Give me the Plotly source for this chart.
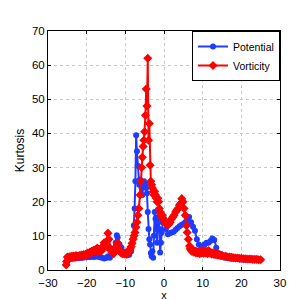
import plotly.graph_objects as go

pot_x = [-25, -24.5, -24, -23.5, -23, -22.5, -22, -21.5, -21, -20.5, -20, -19.5, -19, -18.5, -18, -17.5, -17, -16.5, -16, -15.5, -15, -14.5, -14, -13.5, -13, -12.5, -12.2, -12, -11.5, -11, -10.5, -10, -9.5, -9, -8.5, -8, -7.8, -7.6, -7.4, -7.2, -7.0, -6.8, -6.6, -6.4, -6.2, -6.0, -5.8, -5.6, -5.4, -5.2, -5.0, -4.8, -4.6, -4.4, -4.2, -4.0, -3.8, -3.6, -3.4, -3.2, -3.0, -2.8, -2.6, -2.4, -2.2, -2.0, -1.8, -1.6, -1.4, -1.2, -1.0, -0.8, -0.6, -0.4, -0.2, 0, 0.5, 1, 1.5, 2, 2.5, 3, 3.5, 4, 4.5, 5, 5.5, 6, 6.5, 7, 7.5, 8, 8.5, 9, 9.5, 10, 10.5, 11, 11.5, 12, 12.5, 13, 13.5, 14, 14.5, 15, 15.5, 16, 16.5, 17, 17.5, 18, 19, 20, 21, 22, 23, 24, 25]
pot_y = [2.5, 3.2, 3.3, 3.4, 3.4, 3.5, 3.5, 3.6, 3.6, 3.7, 3.7, 3.8, 3.8, 3.9, 3.8, 4.0, 3.9, 3.7, 3.6, 3.4, 3.5, 4.0, 3.6, 4.5, 5.5, 8.0, 10.2, 9.5, 7.5, 6.5, 5.0, 4.5, 4.3, 4.5, 5.5, 9.0, 13.0, 18.0, 26.0, 39.5, 34.8, 30.5, 26.0, 25.0, 26.5, 25.0, 24.0, 22.0, 24.5, 26.0, 25.5, 25.2, 24.0, 22.5, 17.0, 12.0, 9.0, 7.5, 5.0, 4.0, 5.5, 3.6, 10.0, 17.0, 15.0, 12.0, 8.0, 15.2, 15.5, 12.0, 5.1, 8.0, 11.0, 14.0, 15.5, 15.0, 12.0, 10.5, 10.8, 11.0, 11.2, 11.8, 12.3, 12.8, 13.2, 13.5, 14.0, 14.8, 15.5, 14.0, 12.7, 11.5, 9.0, 7.5, 6.0, 7.0, 7.5, 8.0, 8.0, 8.5, 9.2, 8.8, 6.5, 5.0, 4.5, 4.0, 3.8, 3.6, 3.5, 3.4, 3.4, 3.3, 3.2, 3.1, 3.0, 3.0, 3.0, 3.0, 3.0]

vor_x = [-25.3, -25.2, -25.0, -24.75, -24.5, -24.25, -24.0, -23.75, -23.5, -23.25, -23.0, -22.75, -22.5, -22.25, -22.0, -21.75, -21.5, -21.25, -21.0, -20.75, -20.5, -20.25, -20.0, -19.75, -19.5, -19.25, -19.0, -18.75, -18.5, -18.25, -18.0, -17.75, -17.5, -17.25, -17.0, -16.75, -16.5, -16.25, -16.0, -15.75, -15.5, -15.25, -15.0, -14.75, -14.5, -14.25, -14.0, -13.75, -13.5, -13.25, -13.0, -12.75, -12.5, -12.25, -12.0, -11.75, -11.5, -11.25, -11.0, -10.75, -10.5, -10.25, -10.0, -9.75, -9.5, -9.25, -9.0, -8.75, -8.5, -8.25, -8.0, -7.75, -7.5, -7.25, -7.0, -6.75, -6.5, -6.2, -6.0, -5.8, -5.6, -5.4, -5.2, -5.0, -4.8, -4.6, -4.4, -4.2, -4.0, -3.8, -3.6, -3.4, -3.2, -3.0, -2.8, -2.6, -2.4, -2.2, -2.0, -1.8, -1.6, -1.4, -1.2, -1.0, -0.8, -0.6, -0.4, -0.2, 0, 0.3, 0.6, 1, 1.3, 1.6, 2, 2.3, 2.6, 3, 3.3, 3.6, 4, 4.3, 4.6, 4.9, 5.2, 5.5, 5.8, 6, 6.3, 6.6, 6.8, 7.0, 7.25, 7.5, 7.75, 8.0, 8.25, 8.5, 8.75, 9.0, 9.25, 9.5, 9.75, 10.0, 10.25, 10.5, 10.75, 11.0, 11.25, 11.5, 11.75, 12.0, 12.25, 12.5, 12.75, 13.0, 13.25, 13.5, 13.75, 14.0, 14.25, 14.5, 14.75, 15.0, 15.5, 16.0, 16.5, 17.0, 17.5, 18.0, 18.5, 19.0, 19.5, 20.0, 20.5, 21.0, 21.5, 22.0, 22.5, 23.0, 23.5, 24.0, 24.5, 25.0]
vor_y = [1.5, 2.5, 3.8, 3.4, 3.9, 3.6, 4.0, 3.7, 4.1, 3.8, 4.0, 4.2, 3.9, 4.1, 4.0, 4.3, 4.1, 4.4, 4.2, 4.5, 4.3, 4.6, 4.5, 5.0, 4.7, 5.2, 5.0, 5.5, 5.2, 5.8, 5.5, 6.0, 5.6, 6.4, 6.0, 5.4, 5.8, 5.5, 6.2, 7.0, 8.0, 7.2, 6.8, 8.5, 10.8, 9.0, 6.5, 5.8, 5.3, 5.0, 4.8, 5.3, 6.0, 7.0, 8.0, 6.5, 5.8, 5.2, 5.0, 4.8, 5.1, 4.7, 4.9, 4.6, 5.0, 5.3, 5.6, 6.2, 6.8, 7.8, 9.0, 10.0, 11.0, 12.5, 14.0, 16.0, 18.0, 22.0, 26.0, 30.0, 33.0, 36.2, 38.0, 40.5, 45.3, 53.0, 48.0, 62.0, 38.0, 42.9, 30.7, 26.0, 25.0, 24.0, 23.0, 22.0, 23.0, 22.0, 21.0, 20.0, 21.0, 20.0, 18.0, 17.0, 16.0, 15.5, 16.0, 15.0, 14.5, 13.8, 14.0, 13.2, 13.5, 14.0, 15.0, 15.5, 16.0, 17.0, 17.5, 18.0, 19.0, 19.5, 20.9, 20.0, 18.0, 16.0, 13.0, 11.0, 9.0, 7.0, 6.2, 5.8, 5.4, 5.8, 5.2, 5.6, 5.0, 5.4, 5.0, 5.3, 4.8, 5.6, 5.0, 5.3, 4.9, 5.6, 5.0, 5.4, 4.8, 5.7, 5.0, 5.2, 4.7, 5.0, 4.6, 5.0, 4.5, 4.7, 4.4, 4.6, 4.3, 4.4, 4.2, 4.3, 4.0, 4.0, 3.8, 3.8, 3.7, 3.6, 3.5, 3.5, 3.4, 3.4, 3.3, 3.3, 3.2, 3.2, 3.2, 3.1, 3.1, 3.1, 3.0, 3.0]

x_ticks = [-30, -20, -10, 0, 10, 20, 30]
y_ticks = [0, 10, 20, 30, 40, 50, 60, 70]

FONT = "Liberation Sans, Arial, sans-serif"

fig = go.Figure()
fig.add_trace(go.Scatter(x=pot_x, y=pot_y, mode="lines+markers", name="Potential",
                         line=dict(color="rgb(30,60,255)", width=2),
                         marker=dict(symbol="circle", size=6, color="rgb(30,60,255)")))
fig.add_trace(go.Scatter(x=vor_x, y=vor_y, mode="lines+markers", name="Vorticity",
                         line=dict(color="rgb(255,0,0)", width=2),
                         marker=dict(symbol="diamond", size=7, color="rgb(255,0,0)")))

axis_common = dict(showgrid=True, gridcolor="rgb(200,200,200)", griddash="dot", gridwidth=1,
                   showline=True, linecolor="black", linewidth=1, mirror="ticks",
                   ticks="inside", ticklen=3, tickcolor="black", zeroline=False)

fig.update_layout(
    width=300, height=300,
    margin=dict(l=39, r=28, t=23, b=34),
    paper_bgcolor="white", plot_bgcolor="white",
    font=dict(family=FONT, size=12, color="black"),
    xaxis=dict(range=[-30, 30], tickvals=x_ticks, ticklabelstandoff=2,
               tickfont=dict(family=FONT, size=11.5, color="black"),
               title=dict(text="x", standoff=0, font=dict(size=11)), **axis_common),
    yaxis=dict(range=[0, 70], tickvals=y_ticks,
               tickfont=dict(family=FONT, size=11.5, color="black"),
               title=dict(text="Kurtosis", standoff=4, font=dict(size=12)), **axis_common),
    legend=dict(x=1, y=1, xanchor="right", yanchor="top", bgcolor="white",
                bordercolor="black", borderwidth=1, font=dict(family=FONT, size=10.5),
                itemwidth=30, tracegroupgap=0),
    showlegend=True,
)

fig.write_html("out.html")
